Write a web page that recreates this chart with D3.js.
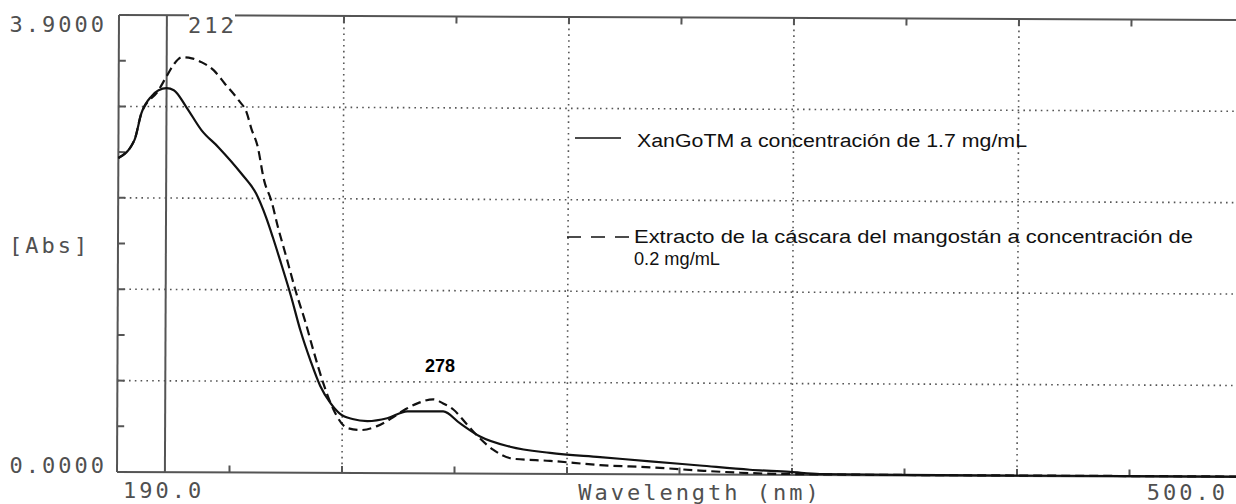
<!DOCTYPE html>
<html lang="es">
<head>
<meta charset="utf-8">
<title>Espectro UV</title>
<script src="https://d3js.org/d3.v7.min.js"></script>
<style>
  body { margin: 0; background: #fff; }
  .mono { font-family: "DejaVu Sans Mono", monospace; fill: #505050; font-size: 22px; letter-spacing: 3px; }
  .leg { font-family: "Liberation Sans", Arial, sans-serif; font-size: 18px; fill: #111; }
  .grid { stroke: #555; stroke-width: 1.6; stroke-dasharray: 1.6 4.2; fill: none; }
  .frame { stroke: #555; stroke-width: 2; fill: none; }
</style>
</head>
<body>
<script>
var xangoNm  = [190, 194.4, 196.3, 199.1, 201.0, 203.2, 205.2, 208.7, 212.9, 217.6, 223.9, 228.0, 230.8, 232.7, 234.9, 237.7, 240.4, 243.2, 245.9, 248.7, 251.4, 254.8, 258.9, 264.4, 269.9, 279.8, 284.5, 290.0, 298.3, 309.3, 323.1, 336.9, 350.6, 364.4, 375.4, 383.7, 405.8, 500];
var xangoAbs = [2.68, 2.833, 3.064, 3.209, 3.26, 3.277, 3.26, 3.115, 2.919, 2.774, 2.552, 2.381, 2.176, 2.005, 1.792, 1.511, 1.212, 0.956, 0.742, 0.597, 0.504, 0.461, 0.444, 0.469, 0.529, 0.529, 0.427, 0.316, 0.23, 0.179, 0.145, 0.111, 0.077, 0.043, 0.026, 0.009, 0.004, 0.003];

var mangoNm  = [190, 194.4, 196.3, 201.0, 203.2, 205.2, 207.4, 210.1, 212.9, 216.2, 219.2, 223.1, 225.3, 226.6, 228.3, 230.2, 232.2, 234.1, 236.3, 239.0, 241.8, 244.0, 246.8, 249.5, 253.4, 257.0, 261.6, 265.2, 269.4, 272.7, 277.1, 279.8, 282.6, 286.4, 290.0, 293.6, 299.1, 309.3, 323.1, 336.9, 350.6, 361.7, 372.7, 405.8, 500];
var mangoAbs = [2.68, 2.833, 3.064, 3.26, 3.379, 3.482, 3.542, 3.533, 3.499, 3.431, 3.32, 3.175, 3.072, 2.936, 2.791, 2.492, 2.321, 2.091, 1.852, 1.553, 1.28, 1.041, 0.76, 0.546, 0.384, 0.367, 0.401, 0.461, 0.546, 0.597, 0.632, 0.597, 0.546, 0.418, 0.299, 0.205, 0.128, 0.111, 0.077, 0.06, 0.034, 0.017, 0.009, 0.004, 0.003];

var xDomain = [190, 500];
var yDomain = [0, 3.9];
var xGrid = [252, 314, 376, 438];
var yGrid = [0.78, 1.56, 2.34, 3.12];
var cursorNm = 203.2;           // linea vertical del cursor
var cursorLabel = "212";
var peakLabel = "278";
var legendLabels = ["XanGoTM a concentración de 1.7 mg/mL",
                    "Extracto de la cáscara del mangostán a concentración de",
                    "0.2 mg/mL"];

var w = 1236, h = 504;
var pLeft = 117, pTop = 15, pBottom = 472, pRight = 1242;

var svg = d3.select("body").append("svg")
    .attr("width", w).attr("height", h);

var x = d3.scaleLinear().domain(xDomain).range([pLeft, pRight]);
var y = d3.scaleLinear().domain(yDomain).range([pBottom, pTop]);

// el escaneo esta un poco girado
var plot = svg.append("g")
    .attr("transform", "rotate(0.25," + pLeft + "," + pBottom + ")");

// rejilla punteada
plot.selectAll(".vg").data(xGrid).enter().append("line")
    .attr("class", "grid")
    .attr("x1", d => x(d)).attr("x2", d => x(d))
    .attr("y1", pTop).attr("y2", pBottom);
plot.selectAll(".hg").data(yGrid).enter().append("line")
    .attr("class", "grid")
    .attr("x1", pLeft).attr("x2", pRight)
    .attr("y1", d => y(d)).attr("y2", d => y(d));

// marcas pequeñas
var xTicks = d3.range(190 + 31, 500, 31);
var yTicks = d3.range(1, 10).map(i => i * 0.39);
plot.selectAll(".xtb").data(xTicks).enter().append("line")
    .attr("class", "frame").attr("stroke-width", 1.5)
    .attr("x1", d => x(d)).attr("x2", d => x(d))
    .attr("y1", pBottom).attr("y2", pBottom - 7);
plot.selectAll(".xtt").data(xTicks).enter().append("line")
    .attr("class", "frame").attr("stroke-width", 1.5)
    .attr("x1", d => x(d)).attr("x2", d => x(d))
    .attr("y1", pTop).attr("y2", pTop + 7);
plot.selectAll(".yt").data(yTicks).enter().append("line")
    .attr("class", "frame").attr("stroke-width", 1.5)
    .attr("x1", pLeft).attr("x2", pLeft + 7)
    .attr("y1", d => y(d)).attr("y2", d => y(d));

// marco
plot.append("line").attr("class", "frame")
    .attr("x1", pLeft).attr("x2", pLeft).attr("y1", pTop).attr("y2", pBottom);
plot.append("line").attr("class", "frame")
    .attr("x1", pLeft).attr("x2", pRight).attr("y1", pBottom).attr("y2", pBottom);
plot.append("line").attr("class", "frame")
    .attr("x1", pLeft).attr("x2", pRight).attr("y1", pTop).attr("y2", pTop);

// cursor
plot.append("line").attr("class", "frame")
    .attr("x1", x(cursorNm)).attr("x2", x(cursorNm))
    .attr("y1", pTop).attr("y2", pBottom);

// curvas
var line = d3.line()
    .x(d => x(d[0])).y(d => y(d[1]))
    .curve(d3.curveMonotoneX);

plot.append("path")
    .datum(d3.zip(mangoNm, mangoAbs))
    .attr("d", line)
    .attr("fill", "none").attr("stroke", "#111")
    .attr("stroke-width", 2.2).attr("stroke-dasharray", "9 5");

plot.append("path")
    .datum(d3.zip(xangoNm, xangoAbs))
    .attr("d", line)
    .attr("fill", "none").attr("stroke", "#111")
    .attr("stroke-width", 2.2);

// etiqueta del cursor (tapa la linea superior)
svg.append("rect").attr("x", 189).attr("y", pTop - 3).attr("width", 46).attr("height", 8).attr("fill", "#fff");
svg.append("text").attr("class", "mono")
    .attr("x", 188).attr("y", 33).text(cursorLabel);

// textos de ejes
svg.append("text").attr("class", "mono").attr("text-anchor", "end")
    .attr("x", 107).attr("y", y(3.9) + 17).text("3.9000");
svg.append("text").attr("class", "mono").attr("text-anchor", "end")
    .attr("x", 107).attr("y", y(0) + 1).text("0.0000");
svg.append("text").attr("class", "mono")
    .attr("x", 9).attr("y", 253).text("[Abs]");
svg.append("text").attr("class", "mono")
    .attr("x", 123).attr("y", 498).text("190.0");
svg.append("text").attr("class", "mono").attr("text-anchor", "end")
    .attr("x", 1228).attr("y", 500).text("500.0");
svg.append("text").attr("class", "mono").attr("text-anchor", "middle")
    .attr("x", 700).attr("y", 500).text("Wavelength (nm)");

// pico
svg.append("text")
    .attr("x", 440).attr("y", 372).attr("text-anchor", "middle")
    .style("font-family", "Liberation Sans, Arial, sans-serif")
    .style("font-weight", "bold").style("font-size", "18px")
    .text(peakLabel);

// leyenda
var leg = svg.append("g");
leg.append("line").attr("x1", 575).attr("x2", 621).attr("y1", 138).attr("y2", 138)
    .attr("stroke", "#111").attr("stroke-width", 1.6);
leg.append("line").attr("x1", 567).attr("x2", 629).attr("y1", 237).attr("y2", 237)
    .attr("stroke", "#111").attr("stroke-width", 1.6).attr("stroke-dasharray", "14 10");

var legPos = [[637, 147], [634, 243], [634, 265]];
var legWidth = [390, 559, 86];
legendLabels.forEach(function(t, i) {
    var txt = leg.append("text").attr("class", "leg")
        .attr("x", legPos[i][0]).attr("y", legPos[i][1]).text(t);
    txt.attr("textLength", legWidth[i]).attr("lengthAdjust", "spacingAndGlyphs");
});
</script>
</body>
</html>
